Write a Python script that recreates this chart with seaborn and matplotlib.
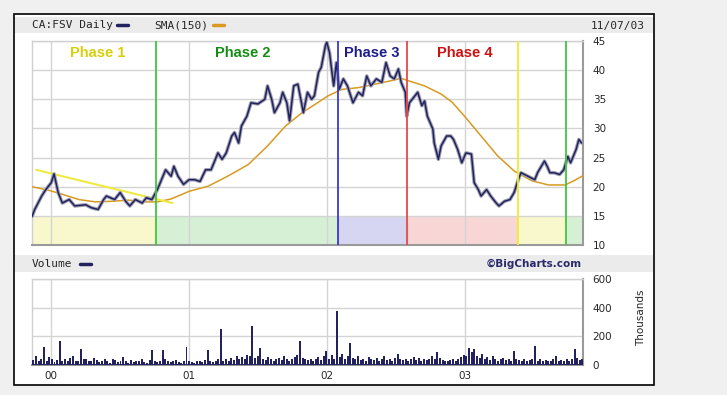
import numpy as np
import pandas as pd
import matplotlib.pyplot as plt
import seaborn as sns
from matplotlib.patches import Rectangle
from matplotlib.lines import Line2D

# -----------------------------
# Data (decimal years)
# -----------------------------
price_t = [1999.86, 1999.88, 1999.93, 1999.96, 2000.00, 2000.02, 2000.05, 2000.08, 2000.13, 2000.17,
           2000.25, 2000.29, 2000.34, 2000.38, 2000.40, 2000.46, 2000.50, 2000.54, 2000.57, 2000.61,
           2000.66, 2000.69, 2000.73, 2000.77, 2000.80, 2000.83, 2000.87, 2000.89, 2000.92, 2000.96,
           2001.00, 2001.04, 2001.08, 2001.12, 2001.16, 2001.21, 2001.24, 2001.27, 2001.31, 2001.33,
           2001.36, 2001.38, 2001.42, 2001.45, 2001.50, 2001.55, 2001.57, 2001.60, 2001.62, 2001.66,
           2001.68, 2001.71, 2001.73, 2001.76, 2001.79, 2001.83, 2001.86, 2001.89, 2001.91, 2001.94,
           2001.96, 2001.99, 2002.00, 2002.02, 2002.05, 2002.07, 2002.09, 2002.12, 2002.15, 2002.19,
           2002.23, 2002.26, 2002.29, 2002.32, 2002.36, 2002.40, 2002.43, 2002.46, 2002.49, 2002.52,
           2002.54, 2002.57, 2002.58, 2002.60, 2002.64, 2002.66, 2002.69, 2002.71, 2002.73, 2002.77,
           2002.78, 2002.81, 2002.83, 2002.87, 2002.90, 2002.92, 2002.95, 2002.98, 2003.01, 2003.05,
           2003.07, 2003.10, 2003.12, 2003.16, 2003.19, 2003.23, 2003.25, 2003.29, 2003.33, 2003.36,
           2003.39, 2003.41, 2003.46, 2003.51, 2003.53, 2003.58, 2003.60, 2003.62, 2003.65, 2003.69,
           2003.72, 2003.75, 2003.77, 2003.81, 2003.83, 2003.85]
price = [14.9, 16.1, 18.4, 19.5, 20.7, 22.2, 19.0, 17.2, 17.8, 16.7,
         16.9, 16.4, 16.1, 17.8, 18.4, 17.8, 19.0, 17.5, 16.7, 17.8,
         17.2, 18.1, 17.8, 19.5, 21.2, 22.9, 21.8, 23.5, 21.8, 20.4,
         21.2, 21.2, 20.9, 22.9, 22.9, 25.8, 24.7, 25.8, 28.7, 29.3,
         27.5, 30.4, 32.1, 34.4, 34.2, 35.0, 37.3, 35.0, 32.7, 34.4,
         36.2, 34.4, 31.3, 37.3, 37.6, 32.7, 36.2, 35.0, 35.6, 39.6,
         40.5, 44.2, 44.8, 43.0, 37.3, 41.3, 36.7, 38.5, 37.3, 34.4,
         36.2, 35.6, 39.0, 37.3, 38.5, 37.9, 41.3, 39.0, 38.5, 40.2,
         37.9, 36.2, 32.1, 34.4, 35.6, 36.2, 33.9, 34.7, 32.1, 29.9,
         27.5, 24.7, 27.0, 28.7, 28.7, 28.1, 26.4, 24.1, 25.8, 25.6,
         20.7, 19.5, 18.4, 19.5, 18.4, 17.2, 16.7, 17.5, 17.8, 19.0,
         21.2, 22.4, 21.8, 21.2, 22.4, 24.4, 23.5, 22.4, 22.4, 22.1,
         22.9, 25.2, 24.1, 26.4, 28.1, 27.5]

sma_t = [1999.86, 1999.98, 2000.08, 2000.20, 2000.32, 2000.44, 2000.56, 2000.68, 2000.77, 2000.87,
         2001.00, 2001.14, 2001.28, 2001.43, 2001.57, 2001.70, 2001.82, 2001.90, 2002.01, 2002.11,
         2002.23, 2002.35, 2002.47, 2002.54, 2002.59, 2002.71, 2002.83, 2002.91, 2003.00, 2003.12,
         2003.24, 2003.36, 2003.49, 2003.61, 2003.73, 2003.80, 2003.86]
sma = [20.0, 19.4, 18.7, 17.8, 17.4, 17.5, 17.7, 17.4, 17.4, 17.9,
       19.2, 20.1, 21.8, 23.8, 27.0, 30.4, 32.7, 33.9, 35.6, 36.7,
       37.0, 37.6, 38.2, 38.6, 38.2, 37.3, 35.9, 34.5, 32.1, 28.7,
       25.3, 22.7, 21.0, 20.3, 20.3, 21.1, 21.9]

trend_t = [1999.89, 2000.88]
trend = [22.9, 17.2]

# weekly volume in thousands, first week ~ mid Nov 1999
volume = [35, 60, 25, 45, 128, 30, 55, 40, 20, 35, 170, 30, 45, 25, 50, 60, 30, 25, 110, 40,
          45, 30, 25, 50, 35, 20, 30, 45, 25, 15, 40, 35, 20, 30, 55, 25, 15, 35, 20, 30,
          25, 40, 20, 15, 35, 105, 30, 20, 25, 105, 40, 30, 20, 25, 35, 20, 15, 30, 124, 25,
          20, 15, 30, 25, 20, 35, 105, 25, 20, 30, 45, 253, 30, 40, 25, 50, 35, 60, 40, 55,
          45, 70, 60, 269, 50, 65, 120, 40, 35, 55, 45, 30, 40, 50, 35, 60, 45, 30, 40, 55,
          70, 170, 50, 40, 35, 45, 30, 40, 55, 35, 60, 100, 45, 70, 40, 379, 55, 80, 45, 60,
          152, 50, 40, 65, 35, 45, 30, 55, 40, 35, 50, 30, 45, 60, 35, 40, 30, 50, 77, 40,
          35, 45, 30, 40, 55, 35, 50, 30, 40, 35, 45, 60, 40, 91, 50, 35, 30, 25, 35, 40,
          30, 45, 55, 70, 60, 117, 90, 112, 65, 50, 75, 40, 55, 35, 60, 45, 30, 40, 50, 35,
          45, 30, 98, 40, 35, 30, 45, 25, 35, 40, 135, 30, 40, 25, 35, 30, 25, 40, 63, 30,
          35, 25, 40, 30, 45, 112, 50, 35, 40]
vol_start = 1999.87

# phases
phase_names = ['Phase 1', 'Phase 2', 'Phase 3', 'Phase 4']
phase_label_t = [2000.34, 2001.39, 2002.33, 2003.00]
phase_text_colors = ['#d6cf0a', '#148c14', '#1c1c8a', '#cc1111']
phase_lines = [2000.76, 2002.08, 2002.58, 2003.39, 2003.74]
phase_line_colors = ['#3ec83e', '#3a3ac8', '#e84848', '#f0ec30', '#3ec83e']
band_edges = [1999.86, 2000.76, 2002.08, 2002.58, 2003.39, 2003.74, 2003.86]
band_colors = ['#f9f8cc', '#d6f0d6', '#d6d6f2', '#f8d6d6', '#f9f8cc', '#d6f0d6']

years = [2000, 2001, 2002, 2003]
year_labels = ['00', '01', '02', '03']
price_ticks = [10, 15, 20, 25, 30, 35, 40, 45]
vol_ticks = [0, 200, 400, 600]

NAVY = '#222260'
SMA_COL = '#d89a20'
GRID = '#d4d4d4'
W, H = 727, 395

# -----------------------------
# Figure
# -----------------------------
sns.set_style('white')
plt.rcParams['font.family'] = ['DejaVu Sans']

fig = plt.figure(figsize=(W / 100, H / 100), dpi=100, facecolor='#f0f0f0')


def fbox(x0, y0, x1, y1):
    # pixel box (top-left origin) -> figure fraction
    return (x0 / W, 1 - y1 / H, (x1 - x0) / W, (y1 - y0) / H)


# white panel with black border
l, b, w, h = fbox(14, 14, 654, 385)
fig.patches.append(Rectangle((l, b), w, h, transform=fig.transFigure,
                             facecolor='white', edgecolor='black', lw=1.2, zorder=-10))
# header strips
for y0, y1 in [(17, 33), (255, 272)]:
    l, b, w, h = fbox(15, y0, 653, y1)
    fig.patches.append(Rectangle((l, b), w, h, transform=fig.transFigure,
                                 facecolor='#ebebeb', edgecolor='none', zorder=-9))

mono = 'DejaVu Sans Mono'
fig.text(32 / W, 1 - 25.5 / H, 'CA:FSV Daily', fontsize=8, family=mono, va='center')
fig.text(154 / W, 1 - 25.5 / H, 'SMA(150)', fontsize=8, family=mono, va='center')
fig.text(645 / W, 1 - 25.5 / H, '11/07/03', fontsize=8, family=mono, va='center', ha='right')
fig.lines.append(Line2D([117 / W, 128 / W], [1 - 25 / H] * 2, transform=fig.transFigure,
                        color=NAVY, lw=2.5))
fig.lines.append(Line2D([213 / W, 224 / W], [1 - 25 / H] * 2, transform=fig.transFigure,
                        color=SMA_COL, lw=2.5))
fig.text(32 / W, 1 - 264 / H, 'Volume', fontsize=8, family=mono, va='center')
fig.lines.append(Line2D([80 / W, 91 / W], [1 - 263.5 / H] * 2, transform=fig.transFigure,
                        color=NAVY, lw=2.5))
fig.text(582 / W, 1 - 264 / H, '\u00a9BigCharts.com', fontsize=7.5, fontweight='bold',
         color='#2a2a6a', va='center', ha='right')

ax = fig.add_axes(fbox(32, 41, 583, 245))
axv = fig.add_axes(fbox(32, 279, 583, 365))

xlim = (1999.86, 2003.86)

# -----------------------------
# Price panel
# -----------------------------
for i in range(len(band_colors)):
    ax.fill_between([band_edges[i], band_edges[i + 1]], 10, 15, color=band_colors[i], lw=0, zorder=0)

sns.lineplot(x=sma_t, y=sma, ax=ax, color=SMA_COL, lw=1.1, zorder=3)
sns.lineplot(x=trend_t, y=trend, ax=ax, color='#eeea40', lw=1.5, zorder=3)
# grey halo imitates the daily high/low bars, navy line on top
sns.lineplot(x=price_t, y=price, ax=ax, color='#a0a0b0', lw=2.6, zorder=4)
sns.lineplot(x=price_t, y=price, ax=ax, color=NAVY, lw=1.1, zorder=4)

for xv, c in zip(phase_lines, phase_line_colors):
    ax.axvline(xv, color=c, lw=1.3, zorder=5)
for name, xv, c in zip(phase_names, phase_label_t, phase_text_colors):
    ax.text(xv, 43.0, name, color=c, fontsize=10.5, fontweight='bold', family='Liberation Sans',
            ha='center', va='center', zorder=6)

ax.set_xlim(*xlim)
ax.set_ylim(10, 45)
ax.set_xticks(years)
ax.set_yticks(price_ticks)
ax.set_xticklabels([])
ax.yaxis.tick_right()
ax.tick_params(axis='y', length=0, pad=7, labelsize=7.5)
ax.tick_params(axis='x', length=0)
ax.grid(True, color=GRID, lw=1, zorder=1)
ax.set_axisbelow(True)
ax.set_xlabel('')
ax.set_ylabel('')

# -----------------------------
# Volume panel
# -----------------------------
vol_t = vol_start + np.arange(len(volume)) / 52.18
axv.bar(vol_t, volume, width=0.75 / 52.18, color=NAVY, lw=0, zorder=3)
axv.axhline(0, color=NAVY, lw=2, zorder=3)
axv.set_xlim(*xlim)
axv.set_ylim(0, 600)
axv.set_xticks(years)
axv.set_xticklabels(year_labels)
axv.set_yticks(vol_ticks)
axv.yaxis.tick_right()
axv.tick_params(axis='y', length=0, pad=7, labelsize=7.5)
axv.tick_params(axis='x', length=0, pad=4, labelsize=7.5)
axv.grid(True, color=GRID, lw=1, zorder=1)
axv.set_axisbelow(True)
fig.text(641 / W, 1 - 318 / H, 'Thousands', fontsize=7.5, rotation=90, ha='center', va='center')

for a in (ax, axv):
    for s in ('left', 'top'):
        a.spines[s].set_color('#d0d0d0')
        a.spines[s].set_linewidth(1)
    for s in ('right', 'bottom'):
        a.spines[s].set_color('#9a9a9a')
        a.spines[s].set_linewidth(1.5)

fig.savefig('out.png', dpi=100, facecolor=fig.get_facecolor())
